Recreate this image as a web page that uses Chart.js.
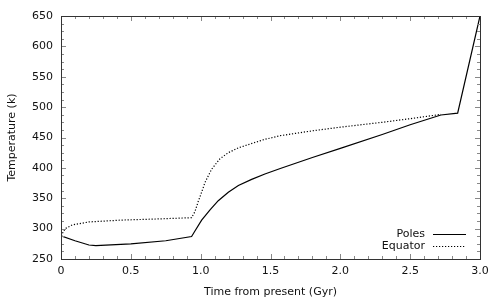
<!DOCTYPE html>
<html>
<head>
<meta charset="utf-8">
<script src="https://cdn.jsdelivr.net/npm/chart.js@4"></script>
<style>
  html, body { margin: 0; padding: 0; background: #fff; }
  #wrap { width: 500px; height: 300px; }
</style>
</head>
<body>
<div id="wrap"><canvas id="myChart" width="500" height="300"></canvas></div>
<script>
const ctx = document.getElementById('myChart');

// values
const polesX = [0, 0.1, 0.2, 0.25, 0.5, 0.75, 0.935, 0.959, 1.007, 1.067, 1.126, 1.198, 1.27, 1.365, 1.46, 1.57, 1.8, 2.0, 2.3, 2.5, 2.72, 2.84, 3.0];
const polesT = [288, 280, 273, 272, 275, 280, 287, 296, 314, 331, 346, 360, 371, 381, 390, 399, 417, 432, 455, 471, 487, 490, 650];

const equatorX = [0, 0.03, 0.08, 0.2, 0.43, 0.7, 0.935, 0.959, 0.983, 1.007, 1.031, 1.079, 1.138, 1.198, 1.27, 1.377, 1.46, 1.57, 1.8, 2.0, 2.3, 2.5, 2.72];
const equatorT = [288, 300, 306, 311, 314, 316, 318, 328, 345, 360, 376, 398, 415, 425, 433, 441, 447, 453, 461, 467, 475, 481, 488];

const xTicks = [0, 0.5, 1, 1.5, 2, 2.5, 3];
const yTicks = [250, 300, 350, 400, 450, 500, 550, 600, 650];

const toPoints = (xs, ys) => xs.map((x, i) => ({ x: x, y: ys[i] }));

const fontFamily = "'DejaVu Sans', sans-serif";

// box, inward ticks and legend, drawn from the chart's own scales
const framePlugin = {
    id: 'gnuplotFrame',
    afterDatasetsDraw: (chart) => {
        const { ctx, chartArea: a, scales } = chart;
        const xs = scales.x, ys = scales.y;
        ctx.save();
        ctx.lineWidth = 1;

        ctx.strokeStyle = '#888';
        ctx.beginPath();
        for (let i = 0; i <= 30; i++) {
            const v = i / 10;
            const px = Math.round(xs.getPixelForValue(v)) + 0.5;
            const len = i % 5 === 0 ? 5 : 3;
            ctx.moveTo(px, a.bottom); ctx.lineTo(px, a.bottom - len);
            ctx.moveTo(px, a.top); ctx.lineTo(px, a.top + len);
        }
        for (let i = 0; i <= 32; i++) {
            const v = 250 + i * 12.5;
            const py = Math.round(ys.getPixelForValue(v)) + 0.5;
            const len = i % 4 === 0 ? 5 : 3;
            ctx.moveTo(a.left, py); ctx.lineTo(a.left + len, py);
            ctx.moveTo(a.right, py); ctx.lineTo(a.right - len, py);
        }
        ctx.stroke();

        ctx.strokeStyle = '#333';
        ctx.strokeRect(Math.round(a.left) + 0.5, Math.round(a.top) + 0.5,
            Math.round(a.right - a.left), Math.round(a.bottom - a.top));

        // legend
        ctx.font = '11px ' + fontFamily;
        ctx.fillStyle = '#111';
        ctx.strokeStyle = '#000';
        ctx.textAlign = 'right';
        ctx.textBaseline = 'middle';
        const rows = [a.bottom - 25, a.bottom - 13];
        chart.data.datasets.forEach((ds, i) => {
            const y = rows[i];
            ctx.fillText(ds.label, a.right - 55, y);
            ctx.beginPath();
            ctx.lineWidth = ds.borderWidth;
            ctx.setLineDash(ds.borderDash || []);
            ctx.moveTo(a.right - 47, y + 0.5);
            ctx.lineTo(a.right - 14, y + 0.5);
            ctx.stroke();
        });
        ctx.restore();
    }
};

const cfg = {
    type: 'line',
    data: {
        datasets: [{
            label: 'Poles',
            data: toPoints(polesX, polesT),
            borderColor: '#000',
            borderWidth: 1.2,
            pointRadius: 0,
            tension: 0,
            fill: false
        }, {
            label: 'Equator',
            data: toPoints(equatorX, equatorT),
            borderColor: '#000',
            borderWidth: 1.2,
            borderDash: [1.2, 1.8],
            pointRadius: 0,
            tension: 0,
            fill: false
        }]
    },
    options: {
        responsive: false,
        animation: false,
        devicePixelRatio: 1,
        layout: { padding: { left: 6, right: 20, top: 16, bottom: 1 } },
        plugins: {
            legend: { display: false },
            tooltip: { enabled: false }
        },
        scales: {
            x: {
                type: 'linear',
                min: 0,
                max: 3,
                grid: { display: false, drawTicks: false },
                border: { display: false },
                afterBuildTicks: (scale) => { scale.ticks = xTicks.map(v => ({ value: v })); },
                afterFit: (scale) => { scale.height = 40; },
                ticks: {
                    padding: 6,
                    color: '#111',
                    font: { family: fontFamily, size: 11 },
                    maxRotation: 0
                },
                title: {
                    display: true,
                    text: 'Time from present (Gyr)',
                    color: '#111',
                    font: { family: fontFamily, size: 11 },
                    padding: { top: 4, bottom: 0 }
                }
            },
            y: {
                min: 250,
                max: 650,
                grid: { display: false, drawTicks: false },
                border: { display: false },
                afterBuildTicks: (scale) => { scale.ticks = yTicks.map(v => ({ value: v })); },
                afterFit: (scale) => { scale.width = 55; },
                ticks: {
                    padding: 8,
                    color: '#111',
                    font: { family: fontFamily, size: 11 }
                },
                title: {
                    display: true,
                    text: 'Temperature (k)',
                    color: '#111',
                    font: { family: fontFamily, size: 11 },
                    padding: { top: 0, bottom: 6 }
                }
            }
        }
    },
    plugins: [framePlugin]
};

new Chart(ctx, cfg);
</script>
</body>
</html>
